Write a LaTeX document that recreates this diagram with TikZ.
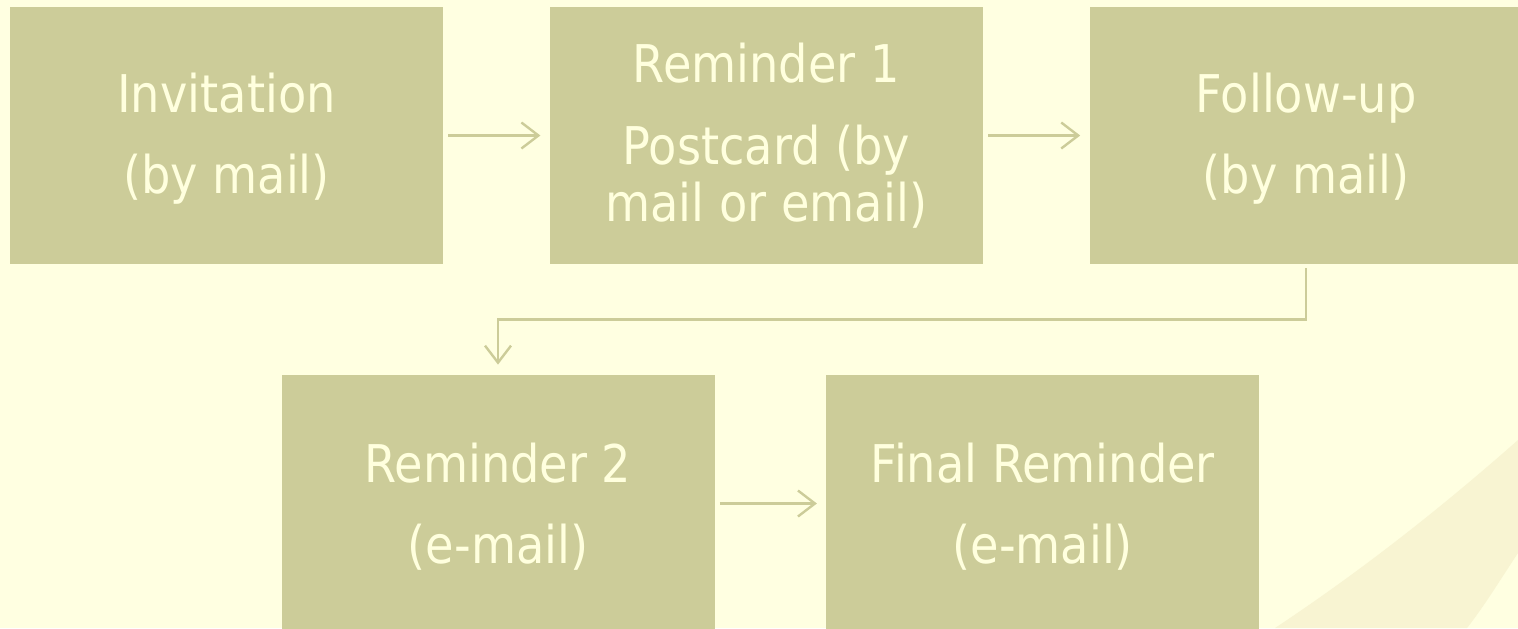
\documentclass[tikz,border=0pt]{standalone}
\usepackage{fontspec}
\setmainfont{DejaVu Sans}[FakeStretch=0.89]
\usepackage{xcolor}
\usepackage{tikz}
\usetikzlibrary{positioning}
\usetikzlibrary{arrows.meta}

\definecolor{paper}{RGB}{255,255,225}
\definecolor{olive}{RGB}{204,204,153}
\definecolor{cream}{RGB}{255,255,222}
\definecolor{swoosh}{RGB}{248,244,210}
\newcommand{\tallrow}{\rule{0pt}{23pt}}

\begin{document}
\begin{tikzpicture}[
  x=0.5pt, y=-0.5pt,
  font=\fontsize{26}{40.5}\selectfont
]
\tikzset{
    stepbox/.style = {rectangle, draw=none, fill=olive, text=cream, align=center,
                      minimum width=216.5pt, minimum height=128.5pt, inner sep=0pt},
    link/.style = {draw=olive, line width=1.2pt, -{Straight Barb[length=8.5pt,width=13pt]},
                   shorten <=2.5pt, shorten >=4.5pt}
}
\useasboundingbox (0,0) rectangle (1518,628);
\fill[paper] (0,0) rectangle (1518,628);
\clip (0,0) rectangle (1518,628);
% swoosh in the corner
\fill[swoosh] (1275,628) .. controls (1370,565) and (1450,500) .. (1518,440)
  -- (1518,553) .. controls (1500,580) and (1485,605) .. (1467,628) -- cycle;

% top row
\node[stepbox] (inv) at (226.5,135.5) {\tallrow Invitation\\(by mail)};
\node[stepbox, right=53pt of inv, font=\fontsize{26}{28.5}\selectfont] (rem1)
  {Reminder 1\\[12.5pt]Postcard (by\\mail or email)};
\node[stepbox, right=53pt of rem1] (fol) {\tallrow Follow-up\\(by mail)};

% bottom row
\node[stepbox] (rem2) at (498,503.5) {\tallrow Reminder 2\\(e-mail)};
\node[stepbox, right=55.5pt of rem2] (final) {\tallrow Final Reminder\\(e-mail)};

\draw[link] (inv) -- (rem1);
\draw[link] (rem1) -- (fol);
\draw[link] (rem2) -- (final);
\coordinate (turn) at (0,319.5);
\draw[link, shorten <=2pt, shorten >=5pt] (fol.south) -- (fol.south |- turn) -| (rem2.north);
\end{tikzpicture}
\end{document}
